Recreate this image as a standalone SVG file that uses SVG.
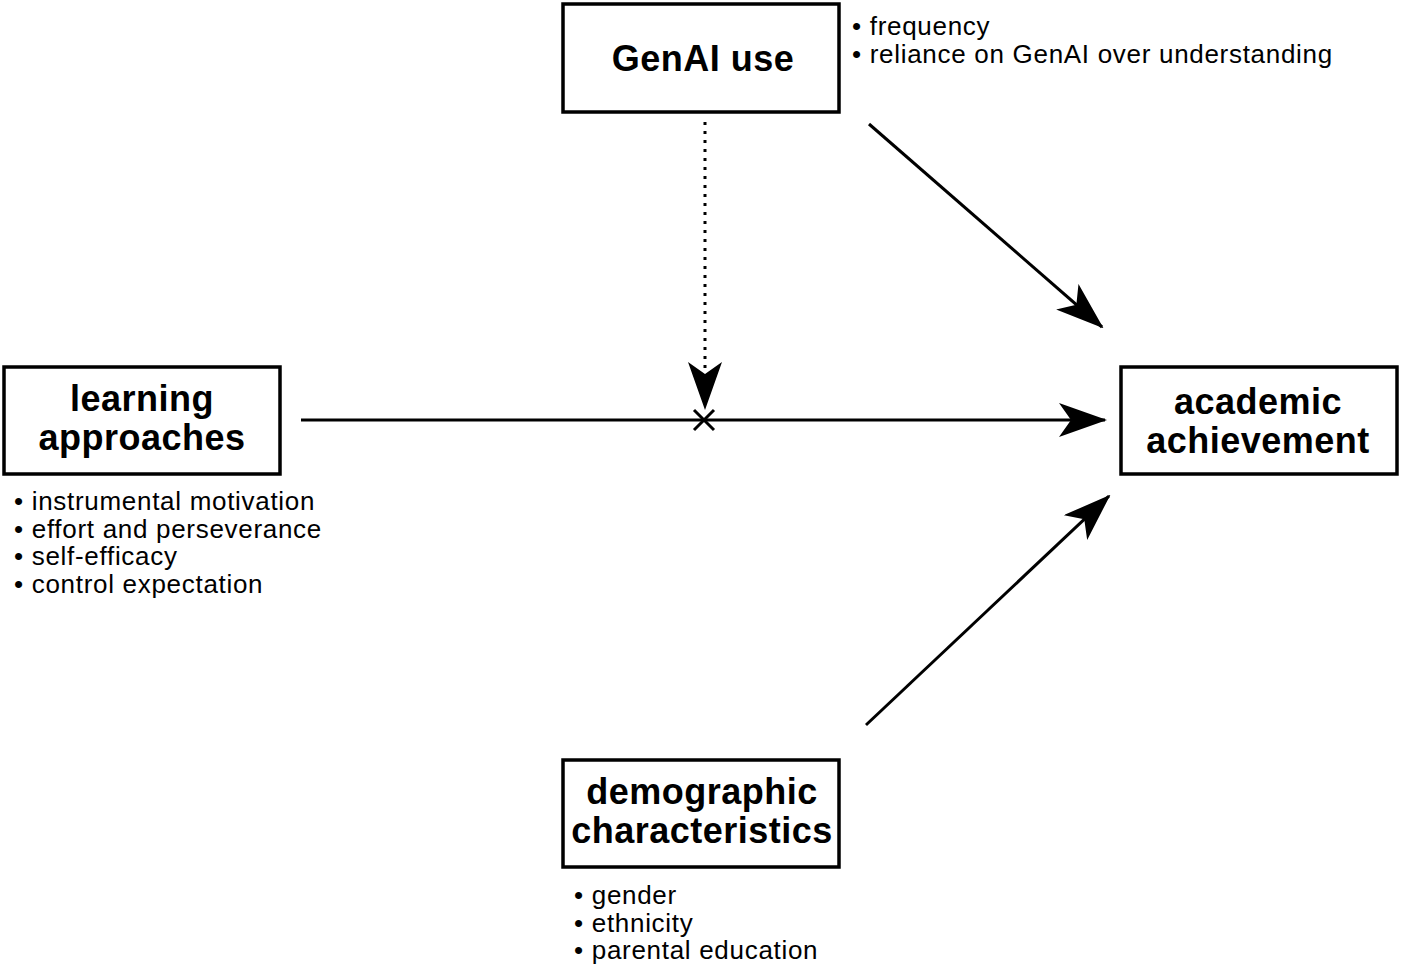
<svg xmlns="http://www.w3.org/2000/svg" width="1402" height="969" viewBox="0 0 1402 969">
<style>
.box{fill:#fff;stroke:#000;stroke-width:3.5}
.t{font-family:"Liberation Sans",Arial,sans-serif;font-weight:bold;font-size:36px;text-anchor:middle;letter-spacing:0.5px}
.b{font-family:"Liberation Sans",Arial,sans-serif;font-size:26px;letter-spacing:0.7px}
.l{stroke:#000;stroke-width:3;fill:none}
</style>
<defs><marker id="a" markerWidth="48" markerHeight="34" refX="46" refY="17" orient="auto" markerUnits="userSpaceOnUse"><path d="M0,0 L48,17 L0,34 L12,17 Z"/></marker></defs>
<rect width="1402" height="969" fill="#fff"/>
<g id="genai"><rect class="box" x="563" y="4" width="276" height="108"/><text class="t" x="703" y="71">GenAI use</text>
<text class="b" x="852" y="35">• frequency</text><text class="b" x="852" y="63">• reliance on GenAI over understanding</text></g>
<g id="learning"><rect class="box" x="4" y="367" width="276" height="107"/><text class="t" x="142" y="411">learning</text><text class="t" x="142" y="450">approaches</text>
<text class="b" x="14" y="510">• instrumental motivation</text><text class="b" x="14" y="538">• effort and perseverance</text><text class="b" x="14" y="565">• self-efficacy</text><text class="b" x="14" y="593">• control expectation</text></g>
<g id="academic"><rect class="box" x="1121" y="367" width="276" height="107"/><text class="t" x="1258" y="414">academic</text><text class="t" x="1258" y="453">achievement</text></g>
<g id="demo"><rect class="box" x="563" y="760" width="276" height="107"/><text class="t" x="702" y="804">demographic</text><text class="t" x="702" y="843">characteristics</text>
<text class="b" x="574" y="904">• gender</text><text class="b" x="574" y="932">• ethnicity</text><text class="b" x="574" y="959">• parental education</text></g>
<g id="connectors">
<line class="l" x1="301" y1="420" x2="1105" y2="420" marker-end="url(#a)"/>
<line class="l" x1="705" y1="122" x2="705" y2="408" stroke-dasharray="3,6" marker-end="url(#a)"/>
<path class="l" d="M694,410 L714,430 M714,410 L694,430"/>
<line class="l" x1="869" y1="124" x2="1102" y2="327" marker-end="url(#a)"/>
<line class="l" x1="866" y1="725" x2="1109" y2="496" marker-end="url(#a)"/>
</g>
</svg>
